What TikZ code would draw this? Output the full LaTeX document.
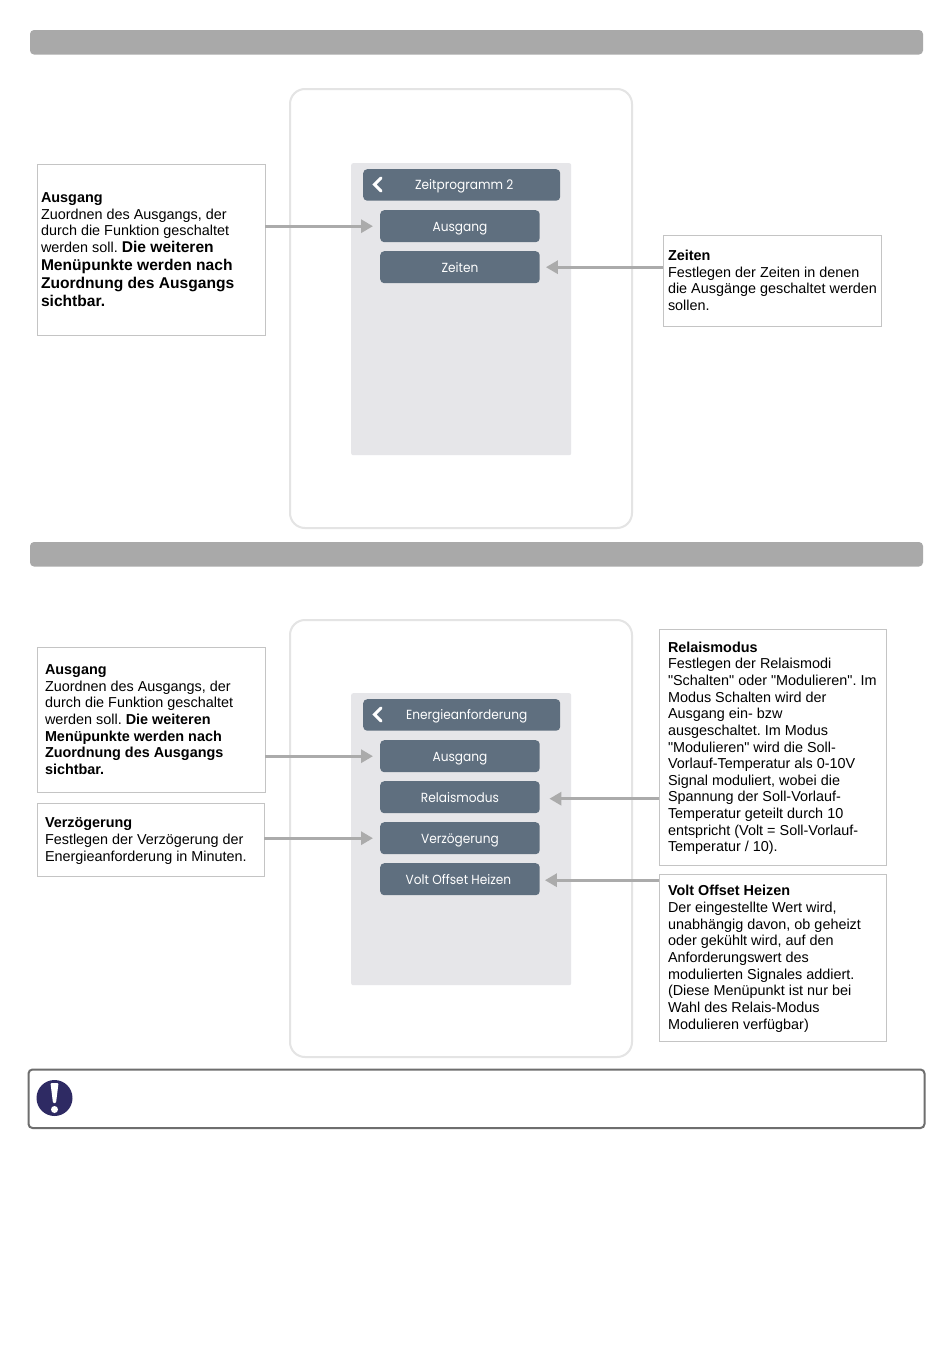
\documentclass[tikz,border=0pt]{standalone}
\usepackage{fontspec}
\setmainfont{Liberation Sans}
\newfontfamily\rawfont{Liberation Sans}
\newfontfamily\uifont[FakeStretch=0.92]{Poppins}
\usetikzlibrary{arrows.meta}
\definecolor{barc}{HTML}{A9A9A9}
\definecolor{phonec}{HTML}{E4E4E4}
\definecolor{screenc}{HTML}{E6E6E9}
\definecolor{btnc}{HTML}{5F6F7F}
\definecolor{boxc}{HTML}{C4C4C4}
\definecolor{arrc}{HTML}{ABABAB}
\definecolor{warnc}{HTML}{6E6E6E}
\definecolor{iconc}{HTML}{2E2A63}
\newcommand{\BigBold}[1]{{\fontsize{15.6}{16.65}\selectfont\bfseries #1}}
\newcommand{\InfoText}[3]{\makebox[#2][l]{\hspace*{#1}\begin{tabular}[c]{@{}l@{}}\noalign{\vskip 3.4pt}#3\end{tabular}}}
\tikzset{
  x=1pt,y=-1pt,
  bar/.style={fill=barc,draw=none,rounded corners=4pt,inner sep=0,outer sep=0,anchor=north west,minimum width=893pt,minimum height=24.5pt},
  phone/.style={fill=white,draw=phonec,line width=2pt,rounded corners=15pt,inner sep=0,outer sep=0,anchor=north west,minimum width=342pt},
  screen/.style={fill=screenc,draw=none,rounded corners=2pt,inner sep=0,anchor=north west,minimum width=220pt,minimum height=292pt},
  uitext/.style={text=white,text height=13pt,text depth=3pt,font=\uifont\fontsize{13.2}{16}\selectfont},
  head/.style={uitext,fill=btnc,draw=none,rounded corners=4pt,inner sep=0,anchor=north west,minimum width=197pt,minimum height=31.5pt},
  btn/.style={uitext,fill=btnc,draw=none,rounded corners=4pt,inner sep=0,anchor=north west,minimum width=159.5pt,minimum height=32pt},
  info/.style={fill=white,draw=boxc,line width=1pt,inner sep=0,outer sep=0,anchor=north west,font=\rawfont\frenchspacing\fontsize{14.4}{16.65}\selectfont},
  conn/.style={draw=arrc,line width=3pt,-{Triangle[length=12pt,width=13pt]}},
  chev/.style={draw=white,line width=3pt,line cap=round,line join=miter},
}
\begin{document}
\begin{tikzpicture}
\useasboundingbox (0,0) rectangle (950,1360);
\fill[white] (0,0) rectangle (950,1360);

\node[bar] (bar1) at (30,30) {};
\node[bar] (bar2) at (30,542) {};

% top phone
\node[phone,minimum height=439pt] (ph1) at (290,89) {};
\node[screen] (sc1) at (351,163) {};
\node[head] (h1) at (363,169) {\hspace*{5pt}Zeitprogramm 2};
\draw[chev] (381,178) -- (374.5,184.5) -- (381,191);
\node[btn] (b1) at (380,210) {Ausgang};
\node[btn] (b2) at (380,251) {Zeiten};

\node[info,minimum height=171pt] (t1) at (37,164) {\InfoText{4pt}{228pt}{\textbf{Ausgang}\\Zuordnen des Ausgangs, der\\durch die Funktion geschaltet\\werden soll. \BigBold{Die weiteren}\\[1.5pt]\BigBold{Menüpunkte werden nach}\\[1.5pt]\BigBold{Zuordnung des Ausgangs}\\[1pt]\BigBold{sichtbar.}}};
\node[info,minimum height=91pt] (t2) at (663,235) {\InfoText{5pt}{218pt}{\textbf{Zeiten}\\Festlegen der Zeiten in denen\\die Ausgänge geschaltet werden\\sollen.}};

\draw[conn,shorten >=7pt] (t1.east |- b1.west) -- (b1.west);
\draw[conn,shorten >=6pt] (t2.west |- b2.east) -- (b2.east);

% bottom phone
\node[phone,minimum height=437pt] (ph2) at (290,620) {};
\node[screen] (sc2) at (351,693) {};
\node[head] (h2) at (363,699) {\hspace*{10pt}Energieanforderung};
\draw[chev] (381,708) -- (374.5,714.5) -- (381,721);
\node[btn] (b3) at (380,740) {Ausgang};
\node[btn] (b4) at (380,781) {Relaismodus};
\node[btn] (b5) at (380,822) {Verzögerung};
\node[btn] (b6) at (380,863) {\hspace*{-3pt}Volt Offset Heizen};

\node[info,minimum height=145pt] (t3) at (37,647) {\InfoText{8pt}{228pt}{\textbf{Ausgang}\\Zuordnen des Ausgangs, der\\durch die Funktion geschaltet\\werden soll. \textbf{Die weiteren}\\\textbf{Menüpunkte werden nach}\\\textbf{Zuordnung des Ausgangs}\\\textbf{sichtbar.}}};
\node[info,minimum height=73pt] (t4) at (37,803) {\InfoText{8pt}{227pt}{\textbf{Verzögerung}\\Festlegen der Verzögerung der\\Energieanforderung in Minuten.}};
\node[info,minimum height=236pt] (t5) at (659,629) {\InfoText{9pt}{227pt}{\textbf{Relaismodus}\\Festlegen der Relaismodi\\"Schalten" oder "Modulieren". Im\\Modus Schalten wird der\\Ausgang ein- bzw\\ausgeschaltet. Im Modus\\"Modulieren" wird die Soll-\\Vorlauf-Temperatur als 0-10V\\Signal moduliert, wobei die\\Spannung der Soll-Vorlauf-\\Temperatur geteilt durch 10\\entspricht (Volt = Soll-Vorlauf-\\Temperatur / 10).}};
\node[info,minimum height=167pt] (t6) at (659,874) {\InfoText{9pt}{227pt}{\textbf{Volt Offset Heizen}\\Der eingestellte Wert wird,\\unabhängig davon, ob geheizt\\oder gekühlt wird, auf den\\Anforderungswert des\\modulierten Signales addiert.\\(Diese Menüpunkt ist nur bei\\Wahl des Relais-Modus\\Modulieren verfügbar)}};

\coordinate (r4) at ([yshift=-1.5pt]b4.east);
\coordinate (r6) at ([yshift=-1pt]b6.east);
\draw[conn,shorten >=7pt] (t3.east |- b3.west) -- (b3.west);
\draw[conn,shorten >=7pt] (t4.east |- b5.west) -- (b5.west);
\draw[conn,shorten >=9.5pt] (t5.west |- r4) -- (r4);
\draw[conn,shorten >=5pt] (t6.west |- r6) -- (r6);

% note box
\node[fill=white,draw=warnc,line width=2pt,rounded corners=4pt,inner sep=0,outer sep=0,anchor=north west,minimum width=896pt,minimum height=58.5pt] (warn) at (28.5,1069.5) {};
\node[circle,fill=iconc,draw=none,minimum size=36pt,inner sep=0] (icon) at (54.5,1098) {};
\fill[white,rounded corners=1pt] (50.5,1083) -- (58.5,1083) -- (56,1103) -- (53,1103) -- cycle;
\fill[white] (54.5,1109.5) circle (3.5);
\end{tikzpicture}
\end{document}
